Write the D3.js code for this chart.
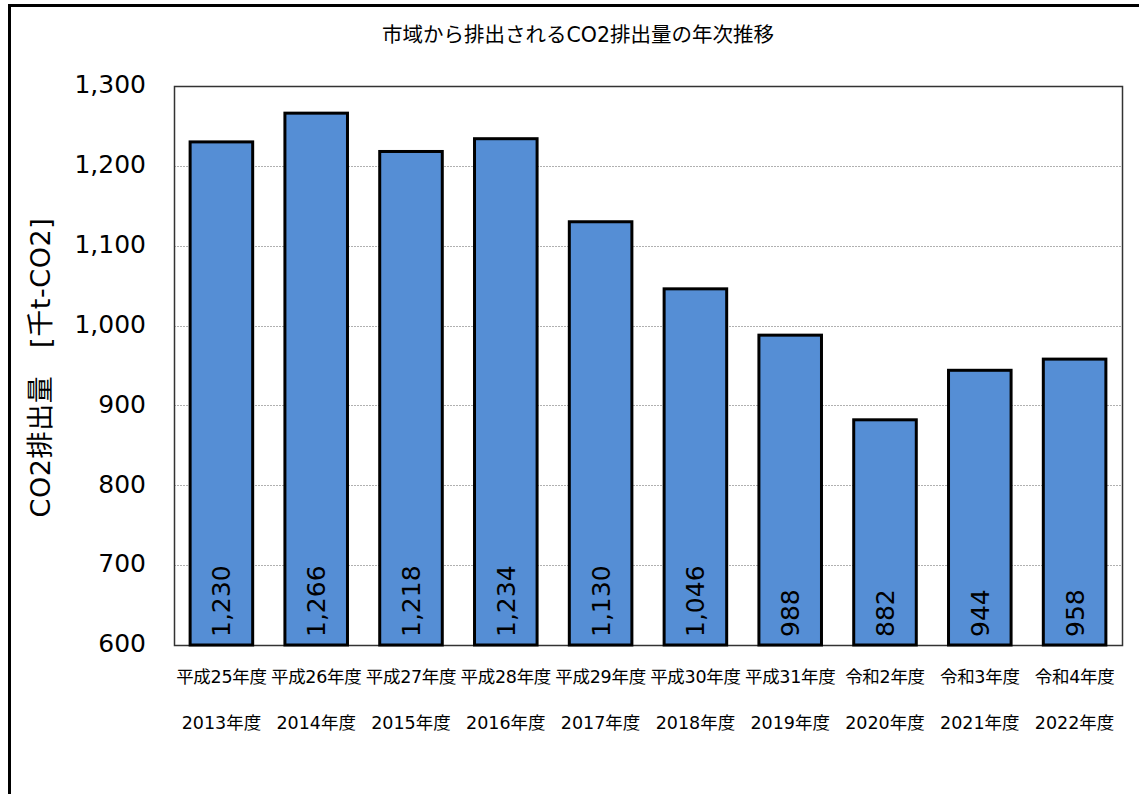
<!DOCTYPE html>
<html>
<head>
<meta charset="utf-8">
<script src="https://cdn.jsdelivr.net/npm/d3@7"></script>
<style>
  body { margin: 0; background: #fff; }
  text { font-family: "DejaVu Sans", "Noto Sans CJK JP", sans-serif; fill: #000; }
</style>
</head>
<body>
<div id="chart"></div>
<script>

// data
var eraLabels  = ["平成25年度", "平成26年度", "平成27年度", "平成28年度", "平成29年度",
                  "平成30年度", "平成31年度", "令和2年度", "令和3年度", "令和4年度"];
var yearLabels = ["2013年度", "2014年度", "2015年度", "2016年度", "2017年度",
                  "2018年度", "2019年度", "2020年度", "2021年度", "2022年度"];
var emissions  = [1230, 1266, 1218, 1234, 1130, 1046, 988, 882, 944, 958];
var yTicks     = [600, 700, 800, 900, 1000, 1100, 1200, 1300];

var W = 1139, H = 794;
var plot = {left: 174, top: 86, right: 1122, bottom: 645};

var svg = d3.select("#chart").append("svg")
            .attr("width", W)
            .attr("height", H);

// outer frame (only left and top show in the picture)
svg.append("rect")
   .attr("x", 9.5).attr("y", 5.5)
   .attr("width", W + 20).attr("height", H + 20)
   .attr("fill", "none")
   .attr("stroke", "#000")
   .attr("stroke-width", 3);

var x = d3.scaleBand()
          .domain(d3.range(emissions.length))
          .range([plot.left, plot.right])
          .paddingInner(0.34)
          .paddingOuter(0.17);

var y = d3.scaleLinear()
          .domain([600, 1300])
          .range([plot.bottom, plot.top]);

// dotted grid
svg.append("g")
   .selectAll("line")
   .data(yTicks.slice(1, -1))
   .enter().append("line")
   .attr("x1", plot.left).attr("x2", plot.right)
   .attr("y1", function(d) { return Math.round(y(d)) + 0.5; })
   .attr("y2", function(d) { return Math.round(y(d)) + 0.5; })
   .attr("stroke", "#b0b0b0")
   .attr("stroke-width", 1)
   .attr("stroke-dasharray", "2,1");

// plot frame
svg.append("rect")
   .attr("x", plot.left + 0.5).attr("y", plot.top + 0.5)
   .attr("width", plot.right - plot.left).attr("height", plot.bottom - plot.top)
   .attr("fill", "none")
   .attr("stroke", "#333")
   .attr("stroke-width", 1.5);

// bars
svg.append("g")
   .selectAll("rect")
   .data(emissions)
   .enter().append("rect")
   .attr("x", function(d, i) { return x(i); })
   .attr("y", function(d) { return y(d); })
   .attr("width", x.bandwidth())
   .attr("height", function(d) { return y(600) - y(d); })
   .attr("fill", "#558ed5")
   .attr("stroke", "#000")
   .attr("stroke-width", 3);

// value labels, rotated, sitting at the bar foot
svg.append("g")
   .selectAll("text")
   .data(emissions)
   .enter().append("text")
   .attr("transform", function(d, i) {
     return "translate(" + (x(i) + x.bandwidth() / 2 + 9) + "," + (plot.bottom - 8) + ") rotate(-90)";
   })
   .attr("text-anchor", "start")
   .style("font-size", "25px")
   .text(function(d) { return d3.format(",")(d); });

// y axis tick labels
var yAxis = d3.axisLeft(y)
              .tickValues(yTicks)
              .tickFormat(d3.format(","))
              .tickSize(0)
              .tickPadding(0);

var gy = svg.append("g")
            .attr("transform", "translate(" + (plot.left - 28) + ",-2)")
            .call(yAxis);
gy.select(".domain").remove();
gy.selectAll("text")
  .style("font-size", "25px")
  .style("font-family", "\"DejaVu Sans\", sans-serif")
  .attr("dy", "0.35em");

// x category labels, two rows
var gx = svg.append("g");
gx.selectAll(".era")
  .data(eraLabels)
  .enter().append("text")
  .attr("class", "era")
  .attr("x", function(d, i) { return x(i) + x.bandwidth() / 2; })
  .attr("y", 683)
  .attr("text-anchor", "middle")
  .style("font-size", "17.5px")
  .style("letter-spacing", "-0.3px")
  .text(function(d) { return d; });

gx.selectAll(".year")
  .data(yearLabels)
  .enter().append("text")
  .attr("class", "year")
  .attr("x", function(d, i) { return x(i) + x.bandwidth() / 2; })
  .attr("y", 729)
  .attr("text-anchor", "middle")
  .style("font-size", "17.5px")
  .text(function(d) { return d; });

// y axis title
svg.append("text")
   .attr("transform", "translate(50," + ((plot.top + plot.bottom) / 2 + 2) + ") rotate(-90)")
   .attr("text-anchor", "middle")
   .style("font-size", "27px")
   .style("letter-spacing", "0.6px")
   .text("CO2排出量　[千t-CO2]");

// chart title
svg.append("text")
   .attr("x", 578)
   .attr("y", 42)
   .attr("text-anchor", "middle")
   .style("font-size", "20.5px")
   .text("市域から排出されるCO2排出量の年次推移");

</script>
</body>
</html>
